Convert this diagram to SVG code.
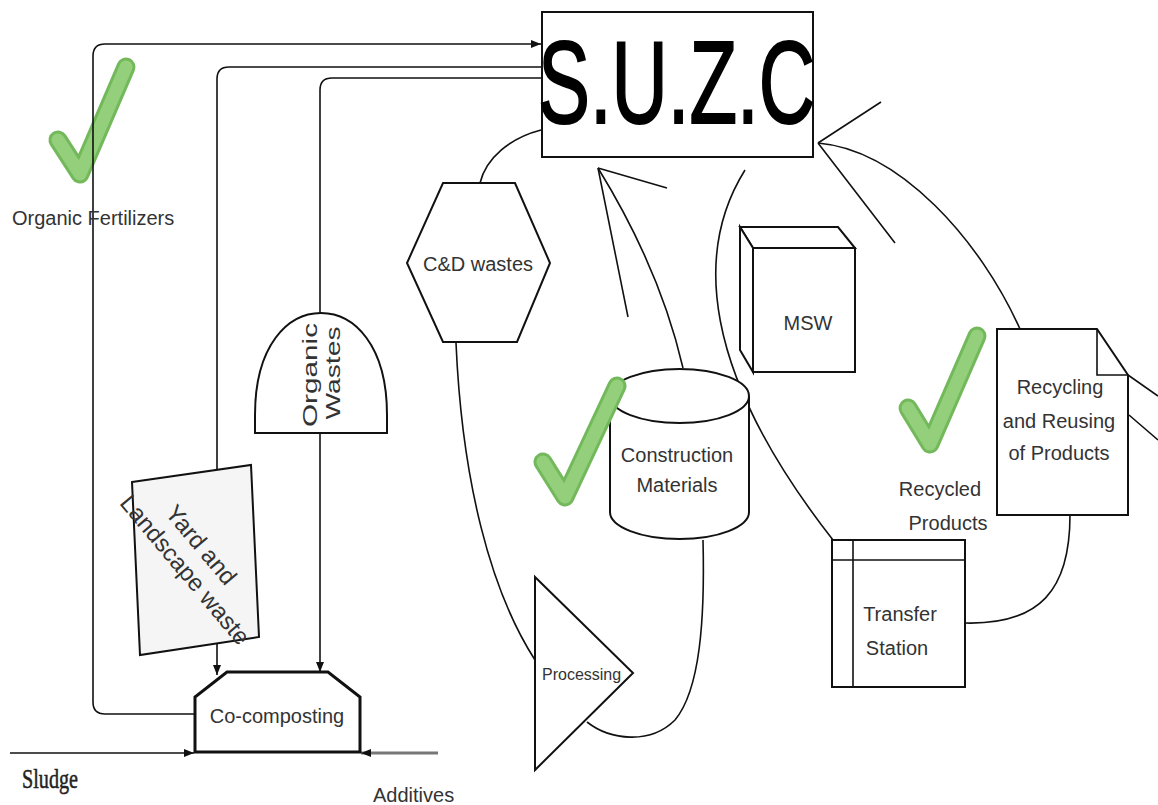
<svg xmlns="http://www.w3.org/2000/svg" width="1158" height="805" viewBox="0 0 1158 805">
<style>
.n{fill:#fff;stroke:#111;stroke-width:2}
.c{fill:none;stroke:#111;stroke-width:1.6}
.t{font-family:"Liberation Sans",Arial,sans-serif;font-size:20px;fill:#333}
.m{text-anchor:middle}
.ck1{fill:none;stroke:#73b95c;stroke-width:19;stroke-linecap:round;stroke-linejoin:round}
.ck2{fill:none;stroke:#94d07c;stroke-width:13;stroke-linecap:round;stroke-linejoin:round}
</style>
<defs>
<marker id="arr" viewBox="0 0 10 10" refX="10" refY="5" markerWidth="10" markerHeight="10" markerUnits="userSpaceOnUse" orient="auto"><path d="M0,1 L10,5 L0,9 z" fill="#111"/></marker>
<path id="ckA" d="M58,140 L80,174 L126,67"/>
<path id="ckB" d="M543,462 L565,497 L617,386"/>
<path id="ckC" d="M908,408 L930,444 L977,336"/>
</defs>
<rect width="1158" height="805" fill="#fff"/>

<g id="check-fertilizers">
<use href="#ckA" class="ck1"/><use href="#ckA" class="ck2"/>
</g>
<g id="check-recycled">
<use href="#ckC" class="ck1"/><use href="#ckC" class="ck2"/>
</g>

<g id="connectors">
<path class="c" d="M195,714 L105,714 Q93,714 93,702 L93,56 Q93,44 105,44 L541,44" marker-end="url(#arr)"/>
<path class="c" d="M542,67 L229,67 Q217,67 217,79 L217,675" marker-end="url(#arr)"/>
<path class="c" d="M542,78 L332,78 Q320,78 320,90 L320,313"/>
<path class="c" d="M320,433 L320,672" marker-end="url(#arr)"/>
<path class="c" d="M10,753 L194,753" stroke-width="2" marker-end="url(#arr)"/>
<path d="M438,753 L361,753" fill="none" stroke="#777" stroke-width="3" marker-end="url(#arr)"/>
<path class="c" d="M480,183 C486,158 510,138 541,130"/>
<path class="c" d="M456,343 C462,480 490,590 535,660"/>
<path class="c" d="M587,722 C610,740 650,745 675,720 C700,690 705,620 703,540"/>
<path class="c" d="M598,168 C630,220 665,290 683,368"/>
<path class="c" d="M598,168 L628,317 M598,168 L667,188"/>
<path class="c" d="M745,170 C695,250 700,370 833,540"/>
<path class="c" d="M818,143 C900,150 980,240 1020,329"/>
<path class="c" d="M818,143 L881,102 M818,143 L895,243"/>
<path class="c" d="M965,623 C1040,625 1070,590 1070,515"/>
<path class="c" d="M1128,375 L1158,396 M1129,415 L1158,440"/>
</g>

<g id="suzc">
<rect class="n" x="542" y="12" width="271" height="145"/>
<text x="538" y="123" font-family="'Liberation Sans',Arial,sans-serif" font-size="116" fill="#000" stroke="#000" stroke-width="2" textLength="277" lengthAdjust="spacingAndGlyphs">S.U.Z.C</text>
</g>

<g id="organic-fertilizers">
<text class="t" x="12" y="225">Organic Fertilizers</text>
</g>

<g id="cd-wastes">
<polygon class="n" points="443,183 515,183 550,263 517,342 443,342 407,263"/>
<text class="t m" x="478" y="271">C&amp;D wastes</text>
</g>

<g id="organic-wastes">
<path class="n" d="M255,433 L255,415 C255,345 288,313 321,313 C354,313 387,345 387,415 L387,433 Z"/>
<text class="t m" transform="translate(317,375) rotate(-90)" x="0" y="0" textLength="104" lengthAdjust="spacingAndGlyphs">Organic</text>
<text class="t m" transform="translate(340,373) rotate(-90)" x="0" y="0" textLength="93" lengthAdjust="spacingAndGlyphs">Wastes</text>
</g>

<g id="yard-waste">
<polygon points="132,482 251,465 259,637 140,655" fill="#f5f5f5" stroke="#111" stroke-width="2"/>
<text class="t m" style="font-size:24px" transform="translate(201,545) rotate(50)" x="0" y="8">Yard and</text>
<text class="t m" style="font-size:24px" transform="translate(185,570) rotate(50)" x="0" y="8">Landscape waste</text>
</g>

<g id="co-composting">
<polygon points="227,672 328,672 360,697 360,752 195,752 195,697" fill="#fff" stroke="#111" stroke-width="3"/>
<text class="t m" x="277" y="723">Co-composting</text>
</g>

<g id="construction-materials">
<path class="n" d="M610,396 L610,512 A69.5,27 0 0 0 749,512 L749,396"/>
<ellipse class="n" cx="679.5" cy="396" rx="69.5" ry="27"/>
<use href="#ckB" class="ck1"/><use href="#ckB" class="ck2"/>
<text class="t m" x="677" y="462">Construction</text>
<text class="t m" x="677" y="492">Materials</text>
</g>

<g id="processing">
<polygon class="n" points="535,577 633,673 535,770"/>
<text class="t" x="542" y="680" style="font-size:16px">Processing</text>
</g>

<g id="msw">
<polygon class="n" points="740,227 838,227 855,248 753,248"/>
<polygon class="n" points="740,227 753,248 753,372 740,350"/>
<rect class="n" x="753" y="248" width="102" height="124"/>
<text class="t m" x="808" y="330">MSW</text>
</g>

<g id="recycled-products">
<text class="t m" x="940" y="496">Recycled</text>
<text class="t m" x="948" y="530">Products</text>
</g>

<g id="recycling-doc">
<path class="n" d="M997,329 L1097,329 L1128,375 L1128,515 L997,515 Z"/>
<path class="c" d="M1097,329 L1097,375 L1128,375" stroke-width="2"/>
<text class="t m" x="1060" y="394">Recycling</text>
<text class="t m" x="1059" y="428">and Reusing</text>
<text class="t m" x="1059" y="460">of Products</text>
</g>

<g id="transfer-station">
<rect class="n" x="832" y="540" width="133" height="147"/>
<path class="c" d="M832,560 L965,560 M853,540 L853,687" stroke-width="2"/>
<text class="t m" x="900" y="621">Transfer</text>
<text class="t m" x="897" y="655">Station</text>
</g>

<g id="labels">
<text x="22" y="788" font-family="'Liberation Serif','Times New Roman',serif" font-size="27" fill="#222" stroke="#222" stroke-width="0.5" textLength="56" lengthAdjust="spacingAndGlyphs">Sludge</text>
<text class="t" x="373" y="802">Additives</text>
</g>
</svg>
